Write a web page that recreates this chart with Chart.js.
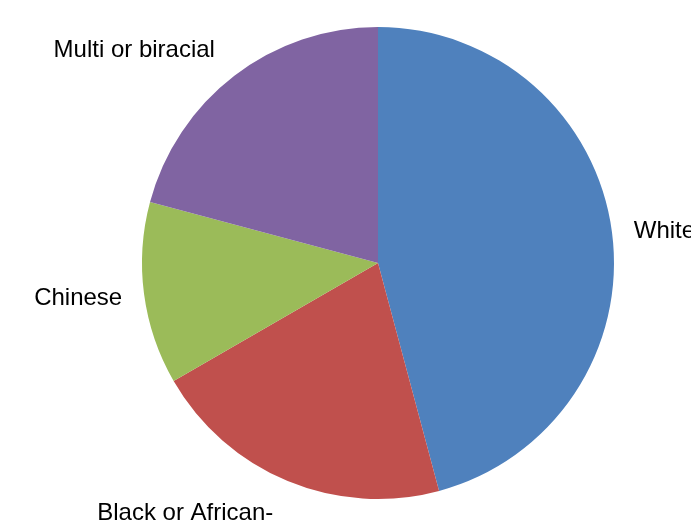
<!DOCTYPE html>
<html>
<head>
<meta charset="utf-8">
<script src="https://cdn.jsdelivr.net/npm/chart.js@4/dist/chart.umd.min.js"></script>
<style>
  html, body { margin: 0; padding: 0; background: #ffffff; }
  canvas { display: block; }
</style>
</head>
<body>
<canvas id="c" width="691" height="527"></canvas>
<script>
// ---- data ----
const categories = ["White", "Black or African-American", "Chinese", "Multi or biracial"];
const labelLines = [["White"], ["Black or African-", "American"], ["Chinese"], ["Multi or biracial"]];
const counts = [11, 5, 3, 5];
const sliceColors = ["#4F81BD", "#C0504D", "#9BBB59", "#8064A2"];

const FONT_SIZE = 24;
const FONT = FONT_SIZE + "px 'Liberation Sans', Arial, sans-serif";

const outsideLabels = {
  id: "outsideLabels",
  afterDraw(chart) {
    const ctx = chart.ctx;
    const meta = chart.getDatasetMeta(0);
    ctx.save();
    ctx.font = FONT;
    ctx.fillStyle = "#000000";
    const cap = 0.716 * FONT_SIZE;
    meta.data.forEach((arc, i) => {
      const p = arc.getProps(["x", "y", "startAngle", "endAngle", "outerRadius"], true);
      const mid = (p.startAngle + p.endAngle) / 2;
      const dx = Math.cos(mid), dy = Math.sin(mid);
      const r = p.outerRadius + 22;
      let ax = p.x + dx * r;
      const ay = p.y + dy * r;
      const lines = labelLines[i];
      const lineH = FONT_SIZE * 1.3;
      const widths = lines.map(l => ctx.measureText(l).width);
      const maxW = Math.max(...widths);
      const side = Math.abs(dy) < 0.5;
      if (!side) ax += (dx >= 0 ? 6 : -6);
      const boxLeft = dx >= 0 ? ax : ax - maxW;
      let firstBase;
      if (side) {
        firstBase = ay + cap / 2 - (lines.length - 1) * lineH / 2;
      } else if (dy > 0) {
        firstBase = ay + cap + 1;
      } else {
        firstBase = ay - 1 - (lines.length - 1) * lineH;
      }
      ctx.textAlign = "center";
      ctx.textBaseline = "alphabetic";
      lines.forEach((l, k) => {
        ctx.fillText(l, boxLeft + maxW / 2, firstBase + k * lineH);
      });
    });
    ctx.restore();
  }
};

new Chart(document.getElementById("c"), {
  type: "pie",
  data: {
    labels: categories,
    datasets: [{
      data: counts,
      backgroundColor: sliceColors,
      borderWidth: 0
    }]
  },
  options: {
    responsive: false,
    animation: false,
    layout: { padding: { left: 142, right: 77, top: 27, bottom: 28 } },
    plugins: {
      legend: { display: false },
      tooltip: { enabled: false }
    }
  },
  plugins: [outsideLabels]
});
</script>
</body>
</html>
